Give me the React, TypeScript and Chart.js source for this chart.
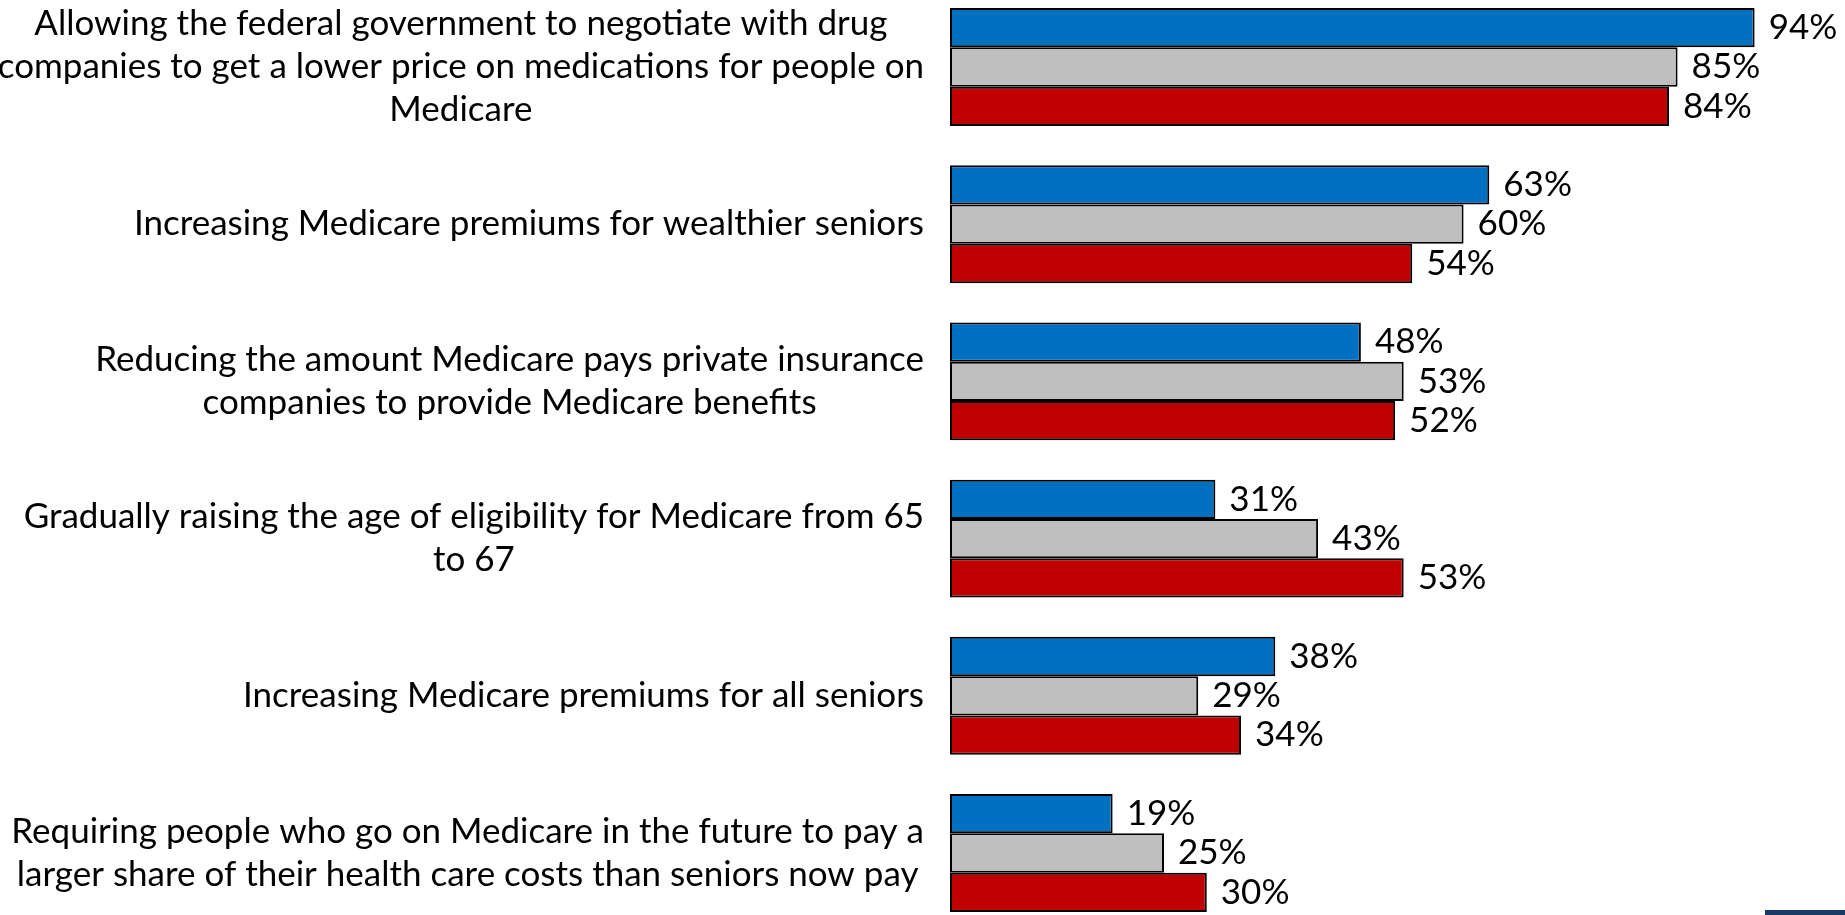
import React, { useEffect, useRef } from "react";
import { Chart, registerables } from "chart.js";

Chart.register(...registerables);

// ---------- data ----------
const categories: string[][] = [
  [
    "Allowing the federal government to negotiate with drug",
    "companies to get a lower price on medications for people on",
    "Medicare",
  ],
  ["Increasing Medicare premiums for wealthier seniors"],
  ["Reducing the amount Medicare pays private insurance", "companies to provide Medicare benefits"],
  ["Gradually raising the age of eligibility for Medicare from 65", "to 67"],
  ["Increasing Medicare premiums for all seniors"],
  [
    "Requiring people who go on Medicare in the future to pay a",
    "larger share of their health care costs than seniors now pay",
  ],
];

const seriesNames = ["Democrats", "Independents", "Republicans"];
const democrats = [94, 63, 48, 31, 38, 19];
const independents = [85, 60, 53, 43, 29, 25];
const republicans = [84, 54, 52, 53, 34, 30];
const xRange = [0, 100];

// ---------- styles ----------
const FONT = 'Lato, "Open Sans", sans-serif';
const LABEL_SIZE = 35;
const VALUE_SIZE = 35;
const LINE_H = 43;
const COLORS = ["#0070C0", "#BFBFBF", "#C00000"];

const categoryLabelPlugin = {
  id: "categoryLabels",
  afterDraw(chart: any) {
    const ctx = chart.ctx;
    const yScale = chart.scales.y;
    ctx.save();
    ctx.font = `${LABEL_SIZE}px ${FONT}`;
    ctx.fillStyle = "#000";
    ctx.textBaseline = "middle";
    ctx.textAlign = "center";
    const right = chart.chartArea.left - 26;
    categories.forEach((lines, i) => {
      const cy = yScale.getPixelForValue(i);
      const maxW = Math.max(...lines.map((l) => ctx.measureText(l).width));
      const cx = right - maxW / 2;
      const n = lines.length;
      lines.forEach((l, j) => {
        ctx.fillText(l, cx, cy + (j - (n - 1) / 2) * LINE_H);
      });
    });
    ctx.restore();
  },
};

const valueLabelPlugin = {
  id: "valueLabels",
  afterDatasetsDraw(chart: any) {
    const ctx = chart.ctx;
    ctx.save();
    ctx.font = `${VALUE_SIZE}px ${FONT}`;
    ctx.fillStyle = "#000";
    ctx.textBaseline = "middle";
    ctx.textAlign = "left";
    chart.data.datasets.forEach((ds: any, di: number) => {
      const meta = chart.getDatasetMeta(di);
      meta.data.forEach((el: any, i: number) => {
        ctx.fillText(`${ds.data[i]}%`, el.x + 14, el.y);
      });
    });
    ctx.restore();
  },
};

export default function App() {
  const ref = useRef<HTMLCanvasElement | null>(null);

  useEffect(() => {
    if (!ref.current) return;
    const series = [democrats, independents, republicans];
    const chart = new Chart(ref.current, {
      type: "bar",
      data: {
        labels: categories.map((c) => c.join(" ")),
        datasets: series.map((d, i) => ({
          label: seriesNames[i],
          data: d,
          backgroundColor: COLORS[i],
          borderColor: "#000000",
          borderWidth: 2,
          borderSkipped: false,
          barPercentage: 1,
          categoryPercentage: 0.75,
          clip: false as any,
        })),
      },
      options: {
        indexAxis: "y",
        animation: false,
        responsive: false,
        devicePixelRatio: 1,
        layout: { padding: { left: 950, right: 39, top: 67, bottom: 62 } },
        plugins: {
          legend: { display: false },
          tooltip: { enabled: false },
        },
        scales: {
          x: {
            type: "linear",
            min: xRange[0],
            max: xRange[1],
            display: false,
          },
          y: {
            type: "category",
            offset: false,
            display: false,
          },
        },
      },
      plugins: [categoryLabelPlugin, valueLabelPlugin],
    });
    return () => chart.destroy();
  }, []);

  return (
    <div style={{ position: "absolute", left: 0, top: 0, width: 1845, height: 915, background: "#fff" }}>
      <canvas ref={ref} width={1845} height={915} style={{ display: "block" }} />
      <div
        style={{
          position: "absolute",
          left: 1765,
          top: 910,
          width: 80,
          height: 5,
          background: "#1B3A66",
        }}
      />
    </div>
  );
}
